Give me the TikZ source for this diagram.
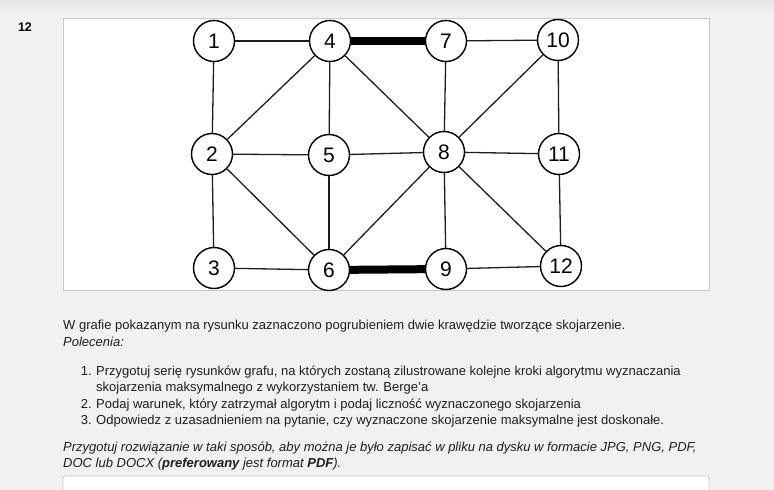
\documentclass[tikz,border=0pt]{standalone}
\usepackage{fontspec}
\setmainfont{Liberation Sans}
\usepackage{tikz}
\usetikzlibrary{calc, positioning}
\definecolor{pagebg}{RGB}{241,241,241}
\definecolor{pagetop}{RGB}{228,228,228}
\definecolor{framegray}{RGB}{200,200,200}
\definecolor{inkgray}{RGB}{30,30,30}

\begin{document}
\begin{tikzpicture}[
  x=1pt, y=-1pt,
  %% wierzcholki grafu
  vertex/.style={
    circle, draw=black, line width=1.4pt, fill=white,
    minimum size=41pt, inner sep=0pt,
    font=\fontsize{21}{21}\selectfont
  },
  link/.style={draw=inkgray, line width=1.3pt},
  %% krawedzie skojarzenia
  matchlink/.style={draw=black, line width=8pt},
  txt/.style={
    anchor=base west, inner sep=0pt, text=inkgray,
    font=\fontsize{13}{15}\selectfont
  },
  num/.style={txt, anchor=base east}
]
\useasboundingbox (0,0) rectangle (774,490);

%% ── Tło strony ─────────────────────────────────────────────────────────────
\fill[pagebg] (0,0) rectangle (774,490);
\shade[top color=pagetop, bottom color=pagebg] (0,0) rectangle (774,14);
\node[anchor=base, inner sep=0pt, font=\fontsize{12.5}{12.5}\selectfont\bfseries]
  (nr) at (25,31) {12};

%% ── Panel z rysunkiem ──────────────────────────────────────────────────────
\draw[framegray, fill=white, line width=0.8pt] (63,18) rectangle (709,290);

%% ── Wierzchołki ────────────────────────────────────────────────────────────
\node[vertex] (v1)  at (214,41)  {1};
\node[vertex] (v4)  at (330,41)  {4};
\node[vertex] (v7)  at (446,41)  {7};
\node[vertex] (v10) at (558,40)  {10};

\node[vertex] (v2)  at (212,154) {2};
\node[vertex] (v5)  at (329,155) {5};
\node[vertex] (v8)  at (444,152) {8};
\node[vertex] (v11) at (559,154) {11};

\node[vertex] (v3)  at (214,268) {3};
\node[vertex] (v6)  at (329,270) {6};
\node[vertex] (v9)  at (446,269) {9};
\node[vertex] (v12) at (561,266) {12};

%% ── Krawędzie ──────────────────────────────────────────────────────────────
\draw[link] (v1) -- (v4);
\draw[link] (v1) -- (v2);
\draw[link] (v2) -- (v4);
\draw[link] (v2) -- (v5);
\draw[link] (v2) -- (v3);
\draw[link] (v2) -- (v6);
\draw[link] (v3) -- (v6);
\draw[link] (v4) -- (v5);
\draw[link] (v4) -- (v8);
\draw[link] (v5) -- (v8);
\draw[link] (v5) -- (v6);
\draw[link] (v6) -- (v8);
\draw[link] (v7) -- (v8);
\draw[link] (v7) -- (v10);
\draw[link] (v8) -- (v10);
\draw[link] (v10) -- (v11);
\draw[link] (v8) -- (v11);
\draw[link] (v8) -- (v9);
\draw[link] (v8) -- (v12);
\draw[link] (v11) -- (v12);
\draw[link] (v9) -- (v12);

%% skojarzenie — pogrubione
\draw[matchlink] (v4) -- (v7);
\draw[matchlink] (v6) -- (v9);

%% ── Treść zadania ──────────────────────────────────────────────────────────
\node[txt] (intro) at (63,329)
  {W grafie pokazanym na rysunku zaznaczono pogrubieniem dwie krawędzie tworzące skojarzenie.};
\node[txt, font=\fontsize{13}{15}\selectfont\itshape] (pol) at (63,346) {Polecenia:};

\node[num] (n1) at (92,375) {1.};
\node[txt] (p1) at (96,375)
  {Przygotuj serię rysunków grafu, na których zostaną zilustrowane kolejne kroki algorytmu wyznaczania};
\node[txt] (p1b) at (96,391.5)
  {skojarzenia maksymalnego z wykorzystaniem tw. Berge'a};
\node[num] (n2) at (92,408) {2.};
\node[txt] (p2) at (96,408)
  {Podaj warunek, który zatrzymał algorytm i podaj liczność wyznaczonego skojarzenia};
\node[num] (n3) at (92,424) {3.};
\node[txt] (p3) at (96,424)
  {Odpowiedz z uzasadnieniem na pytanie, czy wyznaczone skojarzenie maksymalne jest doskonałe.};

\node[txt, font=\fontsize{13}{15}\selectfont\itshape] (uw1) at (63,451)
  {Przygotuj rozwiązanie w taki sposób, aby można je było zapisać w pliku na dysku w formacie JPG, PNG, PDF,};
\node[txt, font=\fontsize{13}{15}\selectfont\itshape] (uw2) at (63,467)
  {DOC lub DOCX (\textbf{preferowany} jest format \textbf{PDF}).};

%% ── Pole odpowiedzi ────────────────────────────────────────────────────────
\draw[framegray, fill=white, line width=0.8pt, rounded corners=2pt]
  (63,496) -- (63,476) -- (709,476) -- (709,496);
\end{tikzpicture}
\end{document}
